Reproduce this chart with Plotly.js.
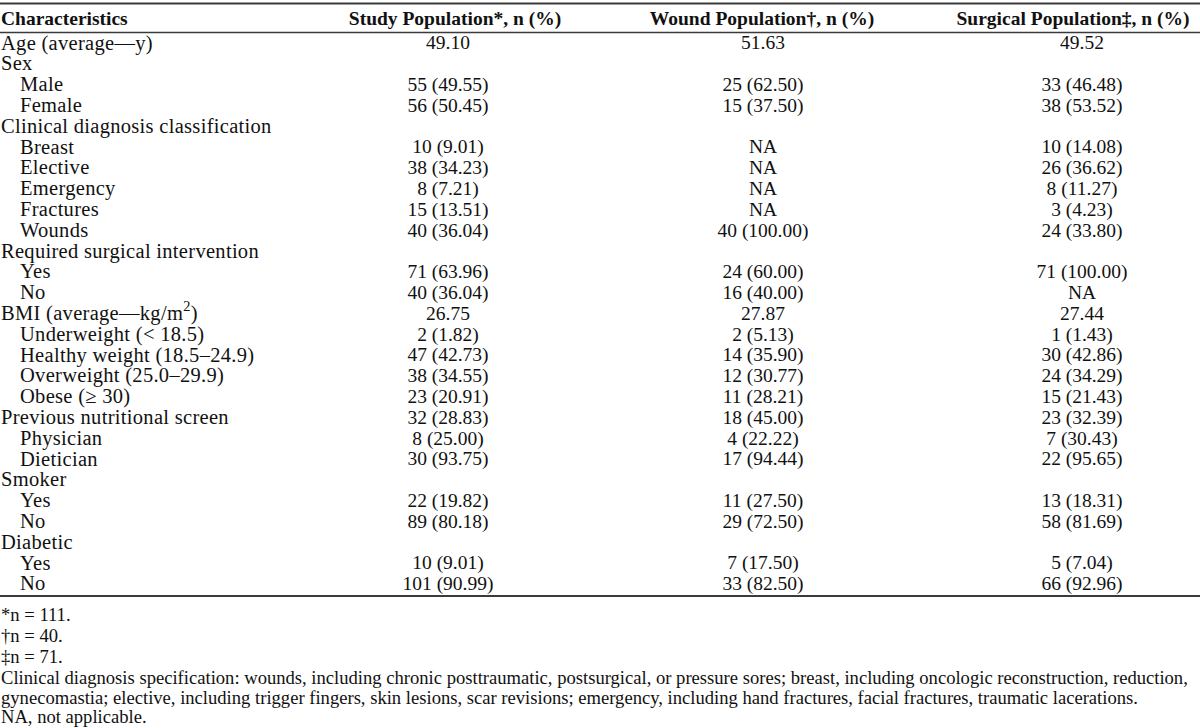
<!DOCTYPE html>
<html>
<head>
<meta charset="utf-8">
<script src="https://cdn.plot.ly/plotly-3.0.1.min.js"></script>
<style>
  html, body { margin: 0; padding: 0; background: #ffffff; }
  #chart { width: 1200px; height: 728px; }
  #chart .scatterlayer .trace:first-child text { letter-spacing: 0.3px; }
</style>
</head>
<body>
<div id="chart"></div>
<script>
// ---------------- DATA ----------------
var columnHeaders = [
  "Characteristics",
  "Study Population*, n (%)",
  "Wound Population†, n (%)",
  "Surgical Population‡, n (%)"
];

var characteristics = [
  "Age (average—y)", "Sex", "Male", "Female",
  "Clinical diagnosis classification", "Breast", "Elective", "Emergency", "Fractures", "Wounds",
  "Required surgical intervention", "Yes", "No",
  "BMI (average—kg/m<sup>2</sup>)", "Underweight (< 18.5)", "Healthy weight (18.5–24.9)",
  "Overweight (25.0–29.9)", "Obese (≥ 30)",
  "Previous nutritional screen", "Physician", "Dietician",
  "Smoker", "Yes", "No",
  "Diabetic", "Yes", "No"
];

// 0 = group / main row, 1 = sub-item of the group above
var level = [0, 0, 1, 1, 0, 1, 1, 1, 1, 1, 0, 1, 1, 0, 1, 1, 1, 1, 0, 1, 1, 0, 1, 1, 0, 1, 1];

var studyPopulation = [
  "49.10", "", "55 (49.55)", "56 (50.45)",
  "", "10 (9.01)", "38 (34.23)", "8 (7.21)", "15 (13.51)", "40 (36.04)",
  "", "71 (63.96)", "40 (36.04)",
  "26.75", "2 (1.82)", "47 (42.73)", "38 (34.55)", "23 (20.91)",
  "32 (28.83)", "8 (25.00)", "30 (93.75)",
  "", "22 (19.82)", "89 (80.18)",
  "", "10 (9.01)", "101 (90.99)"
];

var woundPopulation = [
  "51.63", "", "25 (62.50)", "15 (37.50)",
  "", "NA", "NA", "NA", "NA", "40 (100.00)",
  "", "24 (60.00)", "16 (40.00)",
  "27.87", "2 (5.13)", "14 (35.90)", "12 (30.77)", "11 (28.21)",
  "18 (45.00)", "4 (22.22)", "17 (94.44)",
  "", "11 (27.50)", "29 (72.50)",
  "", "7 (17.50)", "33 (82.50)"
];

var surgicalPopulation = [
  "49.52", "", "33 (46.48)", "38 (53.52)",
  "", "10 (14.08)", "26 (36.62)", "8 (11.27)", "3 (4.23)", "24 (33.80)",
  "", "71 (100.00)", "NA",
  "27.44", "1 (1.43)", "30 (42.86)", "24 (34.29)", "15 (21.43)",
  "23 (32.39)", "7 (30.43)", "22 (95.65)",
  "", "13 (18.31)", "58 (81.69)",
  "", "5 (7.04)", "66 (92.96)"
];

var footnotes = [
  "*n = 111.",
  "†n = 40.",
  "‡n = 71.",
  "Clinical diagnosis specification: wounds, including chronic posttraumatic, postsurgical, or pressure sores; breast, including oncologic reconstruction, reduction,",
  "gynecomastia; elective, including trigger fingers, skin lesions, scar revisions; emergency, including hand fractures, facial fractures, traumatic lacerations.",
  "NA, not applicable."
];

// ---------------- LAYOUT GEOMETRY ----------------
var W = 1200, H = 728;
var FONT = "Liberation Serif, Times New Roman, serif";
var TXT = "#111111";
var labelSize = 20.5;
var bodySize = 19.5;
var headSize = 19.5;
var noteSize = 18.6;

var rowStep = 20.8;      // px per row
var firstRowPx = 44.5;   // px centre of first body row
function pxToV(px) { return (px - firstRowPx) / rowStep; }

var valueCenters = [448, 763, 1082];
var headerCenters = [455, 762, 1073];
var labelX = [1, 20];

var headerV = pxToV(20);
var traces = [];

// column 1: characteristics labels
traces.push({
  type: "scatter", mode: "text",
  x: level.map(function (l) { return labelX[l]; }),
  y: characteristics.map(function (_, i) { return i; }),
  text: characteristics,
  textposition: "middle right",
  textfont: { family: FONT, size: labelSize, color: TXT },
  hoverinfo: "skip", showlegend: false, cliponaxis: false
});

// value columns (empty cells are simply not drawn)
[studyPopulation, woundPopulation, surgicalPopulation].forEach(function (vals, k) {
  var xs = [], ys = [], ts = [];
  vals.forEach(function (v, i) {
    if (v !== "") { xs.push(valueCenters[k]); ys.push(i); ts.push(v); }
  });
  traces.push({
    type: "scatter", mode: "text",
    x: xs, y: ys, text: ts,
    textposition: "middle center",
    textfont: { family: FONT, size: bodySize, color: TXT },
    hoverinfo: "skip", showlegend: false, cliponaxis: false
  });
});

// header row
traces.push({
  type: "scatter", mode: "text",
  x: [1], y: [headerV],
  text: ["<b>" + columnHeaders[0] + "</b>"],
  textposition: "middle right",
  textfont: { family: FONT, size: headSize, color: TXT },
  hoverinfo: "skip", showlegend: false, cliponaxis: false
});
traces.push({
  type: "scatter", mode: "text",
  x: headerCenters,
  y: headerCenters.map(function () { return headerV; }),
  text: columnHeaders.slice(1).map(function (t) { return "<b>" + t + "</b>"; }),
  textposition: "middle center",
  textfont: { family: FONT, size: headSize, color: TXT },
  hoverinfo: "skip", showlegend: false, cliponaxis: false
});

// rules
var shapes = [
  { type: "line", xref: "paper", yref: "y", x0: 0, x1: 1, y0: pxToV(3.5), y1: pxToV(3.5),
    line: { color: "#3a3a3a", width: 2.2 } },
  { type: "line", xref: "paper", yref: "y", x0: 0, x1: 1, y0: pxToV(32.5), y1: pxToV(32.5),
    line: { color: "#3a3a3a", width: 1.3 } },
  { type: "line", xref: "paper", yref: "y", x0: 0, x1: 1, y0: pxToV(596), y1: pxToV(596),
    line: { color: "#3a3a3a", width: 2.2 } }
];

// footnotes
var notePx = [614, 635, 656, 677, 697, 716];
var annotations = footnotes.map(function (t, i) {
  return {
    xref: "paper", yref: "paper", x: 0, y: 1 - notePx[i] / H,
    xanchor: "left", yanchor: "middle", showarrow: false, align: "left",
    text: t, borderpad: 0,
    font: { family: FONT, size: noteSize, color: TXT }
  };
});

var layout = {
  width: W, height: H,
  margin: { l: 0, r: 0, t: 0, b: 0, pad: 0 },
  paper_bgcolor: "#ffffff", plot_bgcolor: "#ffffff",
  font: { family: FONT, color: TXT },
  showlegend: false,
  xaxis: { range: [0, W], visible: false, fixedrange: true },
  yaxis: { range: [pxToV(H), pxToV(0)], visible: false, fixedrange: true },
  shapes: shapes,
  annotations: annotations
};

Plotly.newPlot("chart", traces, layout, { staticPlot: true, displayModeBar: false });
</script>
</body>
</html>
